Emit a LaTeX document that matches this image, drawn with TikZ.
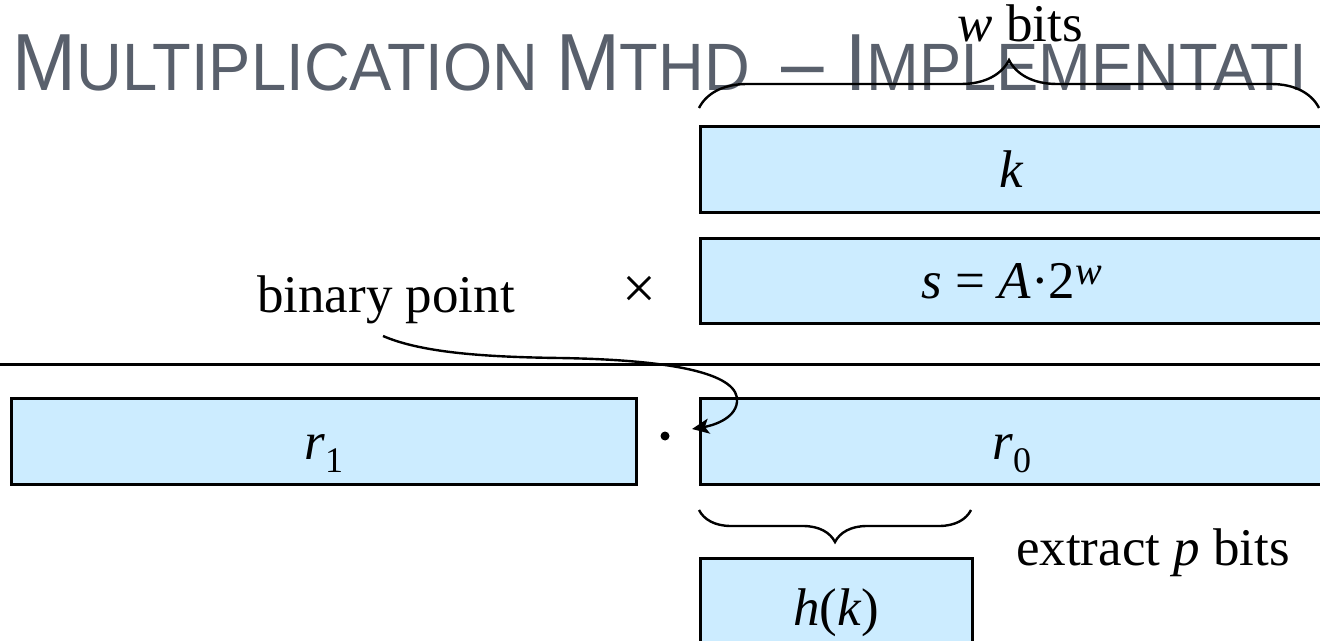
\documentclass[tikz,border=0pt]{standalone}
\usepackage{fontspec}
\setmainfont{Liberation Serif}
\newfontfamily\titlefont{Liberation Sans}[FakeStretch=0.945]
\usetikzlibrary{decorations.pathreplacing,arrows.meta}
\definecolor{boxblue}{HTML}{CCECFF}
\definecolor{titlegray}{RGB}{89,96,108}
\newcommand\tbig[1]{{\fontsize{40.5pt}{48pt}\selectfont #1}}
\newcommand\tsmall[1]{{\fontsize{33.5pt}{40pt}\selectfont #1}}
\begin{document}
\begin{tikzpicture}[x=0.5pt,y=-0.5pt,
  cell/.style={draw, line width=1.3pt, fill=boxblue, inner sep=0pt, anchor=north west,
    text height=18pt, text depth=0pt, font=\fontsize{26.5pt}{30pt}\selectfont},
  lbl/.style={inner sep=0pt, anchor=base, font=\fontsize{26.5pt}{30pt}\selectfont},
  bracestyle/.style={draw, line width=1.2pt, decorate}]
\useasboundingbox (0,0) rectangle (1320,641);
\clip (0,0) rectangle (1320,641);
% title
\node[anchor=base west, inner sep=0pt, text=titlegray, font=\titlefont] (title) at (12.3,91)
  {\tbig{M}\tsmall{ULTIPLICATION }\tbig{M}\tsmall{THD}\tbig{ \hspace{5pt}– I}\tsmall{MPLEMENTATI}};
% boxes
\node[cell, minimum width=311.5pt, minimum height=43pt] (k) at (699,125) {\textit{k}};
\node[cell, minimum width=311.5pt, minimum height=42.5pt] (s) at (699,237)
  {\textit{s} = \textit{A}·2\raisebox{7pt}{\fontsize{20pt}{20pt}\selectfont\textit{w}}};
\node[cell, minimum width=312.5pt, minimum height=43pt] (r1) at (10,397)
  {\textit{r}\raisebox{-6.5pt}{\fontsize{18pt}{18pt}\selectfont 1}};
\node[cell, minimum width=311.5pt, minimum height=43pt] (r0) at (699,397)
  {\textit{r}\raisebox{-6.5pt}{\fontsize{18pt}{18pt}\selectfont 0}};
\node[cell, minimum width=136pt, minimum height=49pt] (hk) at (699,557) {\textit{h}(\textit{k})};
\node[circle, fill=black, inner sep=0pt, minimum size=4.5pt] (pt) at (665,436) {};
% labels
\node[lbl] (wbits) at (1020,42) {\textit{w} bits};
\node[lbl] (bp) at (386,313) {binary point};
\node[lbl, font=\fontsize{30pt}{34pt}\selectfont] (times) at (639,308) {×};
\node[lbl] (extract) at (1153,565) {extract \textit{p} bits};
% rule
\coordinate (lineL) at (0,364.5);
\coordinate (lineR) at (1320,364.5);
\draw[line width=1.2pt] (lineL) -- (lineR);
% braces
\coordinate (tbL) at (699,108);
\coordinate (tbR) at (1319,108);
\draw[bracestyle, decoration={brace, amplitude=24pt}] (tbL) -- (tbR);
\coordinate (bbL) at (699,510);
\coordinate (bbR) at (971,510);
\draw[bracestyle, decoration={brace, amplitude=16pt}] (bbR) -- (bbL);
% arrow
\coordinate (arS) at (383,336);
\coordinate (arE) at (692,429);
\draw[line width=1.2pt, -{Stealth[length=8.5pt,width=7.5pt,inset=2pt]}] (arS)
  .. controls (420,352) and (480,357) .. (560,358)
  .. controls (680,360) and (740,375) .. (737,402)
  .. controls (735,420) and (710,426) .. (arE);
\end{tikzpicture}
\end{document}
